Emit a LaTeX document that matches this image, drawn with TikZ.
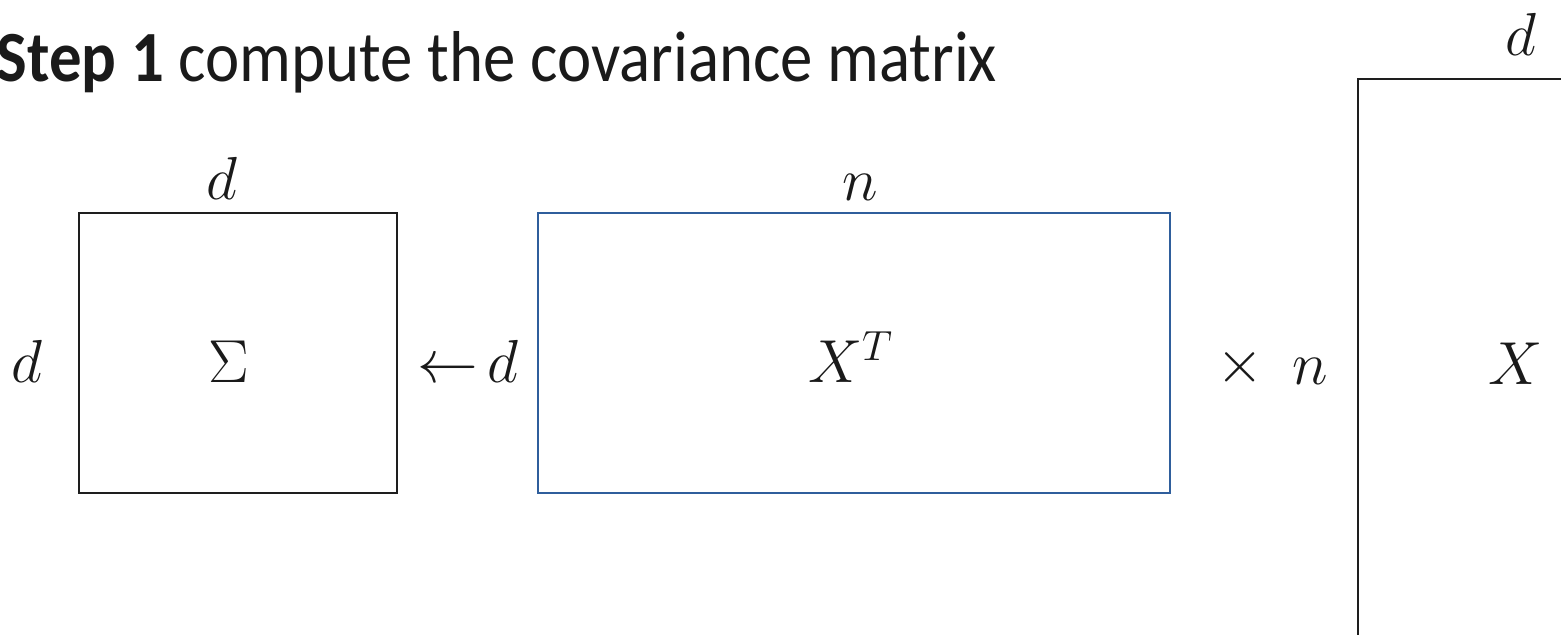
\documentclass[tikz,border=0pt]{standalone}
\usepackage{fontspec}
\setmainfont{Carlito}[FakeStretch=0.9]
\usepackage{tikz}
\definecolor{contorno}{HTML}{1E1E1E}
\definecolor{azul}{HTML}{2F5E9C}
\definecolor{tinta}{HTML}{1A1A1A}

\begin{document}
\begin{tikzpicture}[x=1cm,y=1cm,
    matriz/.style={draw=#1, line width=0.8pt, inner sep=0pt},
    dimensao/.style={anchor=base, inner sep=0pt, text=tinta, font=\fontsize{18}{21}\selectfont},
    titulo/.style={anchor=base west, inner sep=0pt, text=tinta, font=\fontsize{20.5}{24}\selectfont}]
  \clip (0,0) rectangle (15.61,6.35);
  \useasboundingbox (0,0) rectangle (15.61,6.35);
  \node[titulo] (passo) at (-0.04,5.53) {\textbf{Step 1} compute the covariance matrix};
  \node[matriz=contorno, minimum width=3.18cm, minimum height=2.80cm] (sigma) at (2.38,2.82) {};
  \node[matriz=azul, minimum width=6.32cm, minimum height=2.80cm] (xt) at (8.54,2.82) {};
  \node[matriz=contorno, minimum width=3.18cm, minimum height=6.32cm] (xm) at (15.17,2.40) {};
  \node[dimensao] (sigmad) at (2.22,4.35) {$d$};
  \node[dimensao] (sigmae) at (0.27,2.52) {$d$};
  \node[dimensao] (sigmac) at (2.29,2.52) {$\Sigma$};
  \node[dimensao] (recebe) at (4.68,2.52) {${\leftarrow}\,d$};
  \node[dimensao] (xtn) at (8.60,4.34) {$n$};
  \node[dimensao] (xtc) at (8.51,2.52) {$X^T$};
  \node[dimensao] (vezes) at (12.40,2.52) {$\times$};
  \node[dimensao] (xmn) at (13.10,2.50) {$n$};
  \node[dimensao] (xmd) at (15.21,5.79) {$d$};
  \node[dimensao] (xmc) at (15.16,2.50) {$X$};
\end{tikzpicture}
\end{document}
